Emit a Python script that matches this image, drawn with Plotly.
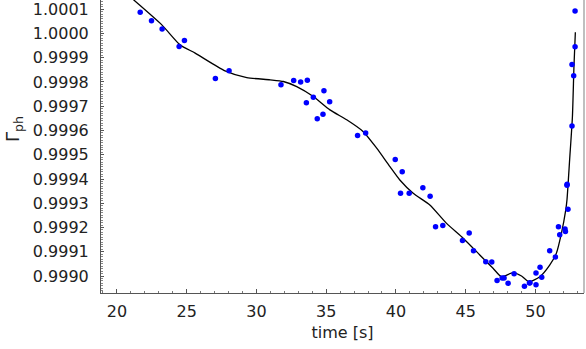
import plotly.graph_objects as go

# measured points
time_pts = [21.67, 22.48, 23.24, 24.46, 24.84, 27.06, 28.04, 31.76, 32.67, 33.17,
            33.65, 34.84, 34.08, 33.58, 35.25, 34.77, 34.36, 37.25, 37.83, 39.95,
            40.45, 40.33, 40.95, 41.93, 42.45, 42.84, 43.36, 44.77, 45.25, 45.56,
            46.44, 46.87, 47.25, 47.61, 47.75, 48.04, 48.47, 49.21, 49.57, 49.61,
            50.04, 50.04, 50.33, 50.45, 51.02, 51.43, 51.65, 51.74, 52.12, 52.15,
            52.26, 52.27, 52.33, 52.62, 52.74, 52.62, 52.84, 52.84]
gamma_pts = [1.000088, 1.000052, 1.000018, 0.999946, 0.999971, 0.999814, 0.999846, 0.999789, 0.999806, 0.999800,
             0.999807, 0.999764, 0.999737, 0.999714, 0.999718, 0.999667, 0.999648, 0.999579, 0.999590, 0.999480,
             0.999430, 0.999341, 0.999341, 0.999364, 0.999329, 0.999203, 0.999208, 0.999146, 0.999177, 0.999104,
             0.999059, 0.999058, 0.998982, 0.998992, 0.998992, 0.998970, 0.999009, 0.998958, 0.998971, 0.998972,
             0.998964, 0.999012, 0.999036, 0.998995, 0.999104, 0.999078, 0.999203, 0.999170, 0.999194, 0.999184,
             0.999374, 0.999378, 0.999275, 0.999619, 0.999826, 0.999872, 0.999945, 1.000093]

# smooth fit curve
fit_time = [21.19, 23.22, 24.53, 25.61, 27.75, 29.31, 30.98, 31.93, 32.89, 34.08,
            35.27, 36.47, 37.66, 38.62, 39.57, 40.28, 41.24, 42.43, 43.63, 44.82,
            46.01, 46.96, 47.57, 48.40, 49.00, 49.54, 50.31, 51.02, 51.50, 51.86,
            52.17, 52.26, 52.45, 52.65, 52.76, 52.86]
fit_gamma = [1.000139, 1.0000355, 0.999953, 0.999919, 0.999846, 0.999818, 0.999809, 0.999802, 0.999781, 0.999740,
             0.999685, 0.999644, 0.999595, 0.999527, 0.999451, 0.999396, 0.999341, 0.999293, 0.999217, 0.999156,
             0.999087, 0.999032, 0.998997, 0.999014, 0.999000, 0.998976, 0.998997, 0.999045, 0.999094, 0.999176,
             0.999272, 0.999314, 0.999479, 0.999657, 0.999863, 1.000005]

x_ticks = [20, 25, 30, 35, 40, 45, 50]
y_ticks = [0.9990, 0.9991, 0.9992, 0.9993, 0.9994, 0.9995, 0.9996, 0.9997, 0.9998, 0.9999, 1.0000, 1.0001]

FONT = "DejaVu Sans"

fig = go.Figure()
fig.add_trace(go.Scatter(x=fit_time, y=fit_gamma, mode="lines",
                         line=dict(color="black", width=1.3, shape="spline", smoothing=0.6),
                         showlegend=False, hoverinfo="skip", cliponaxis=True))
fig.add_trace(go.Scatter(x=time_pts, y=gamma_pts, mode="markers",
                         marker=dict(color="#0000ff", size=5.5),
                         showlegend=False))

fig.update_layout(
    width=586, height=349,
    margin=dict(l=101, r=2, t=0, b=56, autoexpand=False),
    paper_bgcolor="white", plot_bgcolor="white",
    font=dict(family=FONT, size=16, color="#222"),
    xaxis=dict(range=[18.86, 53.48], tickvals=x_ticks, ticks="inside", ticklen=4,
               tickcolor="#555", showline=True, linecolor="#555", linewidth=1,
               showgrid=False, zeroline=False, automargin=False,
               minor=dict(dtick=1, ticks="inside", ticklen=2, tickcolor="#777"),
               title=dict(text="time [s]", standoff=6, font=dict(size=16)),
               ticklabelstandoff=4, ticklabeloverflow="allow"),
    yaxis=dict(range=[0.99893, 1.000138], tickvals=y_ticks, tickformat=".4f",
               ticks="inside", ticklen=3, tickcolor="#555",
               showline=True, linecolor="#555", linewidth=1,
               showgrid=False, zeroline=False, automargin=False,
               minor=dict(dtick=0.00001, tick0=0.999, ticks="inside", ticklen=1.5, tickcolor="#888"),
               ticklabelstandoff=8, ticklabeloverflow="allow"),
)
fig.add_shape(type="line", xref="paper", yref="paper", x0=1, x1=1, y0=0, y1=1,
              line=dict(color="#aaa", width=1.5))
fig.add_annotation(text="Γ<sub>ph</sub>", xref="paper", yref="paper",
                   x=-0.18, y=0.56, xanchor="center", yanchor="middle",
                   textangle=-90, showarrow=False, font=dict(size=18, family=FONT, color="#222"))

fig.write_html("out.html", config={"displayModeBar": False},
               post_script="document.body.style.margin='0';document.body.style.overflow='hidden';")
